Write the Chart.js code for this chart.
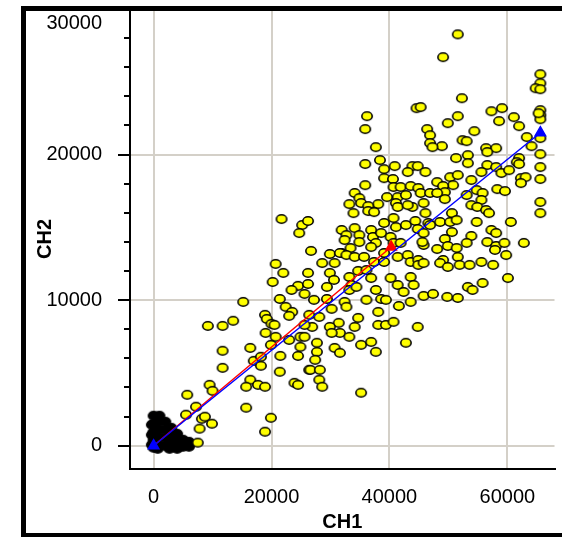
<!DOCTYPE html>
<html>
<head>
<meta charset="utf-8">
<script src="https://cdn.jsdelivr.net/npm/chart.js@4.4.1/dist/chart.umd.min.js"></script>
<style>
  html, body { margin: 0; padding: 0; background: #fff; overflow: hidden; }
  canvas { display: block; }
</style>
</head>
<body>
<canvas id="myChart" width="562" height="537"></canvas>
<script>
// CH1 / CH2 values of the yellow points
var ch1 = [
  21700, 25200, 26200, 24700, 26700, 20700, 22000, 26200, 20200, 24500,
  26200, 23400, 25600, 21400, 15200, 22400, 23500, 23000, 18900, 19200,
  20000, 13500, 11700, 9200, 26400, 19000, 20500, 20700, 19900, 23000,
  24900, 24900, 24500, 21500, 16400, 17000, 18200, 18200, 11700, 11700,
  21400, 23900, 24500, 26400, 16400, 15700, 17700, 18900, 9500, 10000,
  5700, 7200, 15700, 19900, 5500, 8200, 8700, 9900, 7800, 18900,
  7500,
  44600, 36200, 35900, 37700, 46400, 46900, 46900, 35900, 38400, 39100,
  39100, 40900, 40600, 40700, 43900, 44800, 43100, 46100, 35900, 34100,
  34900, 35200, 33200, 38100, 36400, 41900, 43600, 44900, 45300, 41400,
  42800, 41100, 43900, 39600, 46900, 36400, 37400, 33900, 41400, 43100,
  46100, 45800,
  31900, 32700, 32400, 34100, 34900, 34900, 33400, 31900, 36900, 37200,
  38600, 37700, 36900, 39100, 40700, 41100, 42800, 44400, 44800, 45800,
  46600, 40200, 40700, 41900, 45800, 29900, 31600, 32700, 34100, 35700,
  37400, 39100, 39100, 28600, 30700, 29900, 33200, 34700, 36100, 36900,
  41400, 43100, 43600, 44900, 44900, 40200, 41400, 43600, 44100, 29400,
  30600, 33600, 33200, 34400, 37700, 42400, 27200, 29400, 32400, 32700,
  36100, 38600, 39400, 45800, 30200, 28100, 26900, 25600, 34700, 31400,
  29900, 31600, 30200, 33200, 34100, 38100, 38100, 39400, 40700, 41600,
  43600, 44800, 25600, 27700, 27700, 30700, 31600, 35200, 36900, 37700,
  42800, 27400, 26600, 28200, 28100, 28600, 35200,
  51600, 49100, 52300, 45300, 57300, 59100, 58600, 51600, 49900, 54400,
  48900, 47300, 52400, 53100, 56400, 58100, 56600, 61100, 62000, 63300,
  64100, 65600, 65600, 64800, 65600, 65600, 65600, 65600, 65300, 65600,
  65600, 53300, 51300, 62000, 53300, 56600, 58100, 55600, 59000, 60300,
  61600, 62000, 65600, 65600, 62300, 63100, 62300, 48100, 50300, 51600,
  50800, 49100, 49400, 49400, 48100, 53900, 53100, 54800, 55800, 55600,
  58300, 59600, 53900, 54900, 56400, 56900, 65600, 65600, 50600, 48600,
  50300, 51400, 46900, 50600, 54800, 60600, 57300, 58100, 53900, 53100,
  45600, 49400, 48100, 49900, 51400, 56600, 58100, 59500, 57900, 59800,
  62800, 51600, 49100, 48600, 49900, 51900, 53600, 55600, 57600, 45800,
  60100, 55800, 53300, 54100, 47400, 49800, 51600
];
var ch2 = [
  15570, 15160, 15440, 14610, 13380, 12490, 11870, 11870, 11250, 10980,
  11110, 10700, 10430, 10080, 9880, 9540, 9190, 8920, 8990, 8710,
  8370, 8580, 8230, 8230, 8990, 7750, 8300, 7480, 6930, 7270,
  7480, 6790, 6170, 6170, 6720, 5830, 6110, 5490, 6520, 5350,
  5080, 4320, 4180, 5210, 4530, 4050, 4180, 4050, 4180, 3770,
  3500, 2680, 2610, 1920, 2130, 1850, 1990, 1510, 1170, 960,
  210,
  23190, 22640, 21750, 20510, 21750, 21330, 20790, 19350, 19620, 19000,
  18380, 19210, 18320, 17770, 19210, 19210, 18800, 18800, 17900, 17360,
  17010, 16670, 16600, 16600, 16460, 17770, 17840, 17700, 17360, 17080,
  17220, 16670, 16400, 17080, 17360, 16120, 16050, 15980, 16400, 16530,
  15980, 16670,
  14820, 14470, 14130, 14950, 14470, 13990, 13580, 13240, 14820, 14340,
  14610, 13930, 13650, 15300, 15640, 15020, 15160, 15440, 14890, 14610,
  15300, 14340, 13930, 13930, 13790, 13170, 13240, 13100, 12970, 12970,
  12620, 12620, 13240, 12550, 12550, 11870, 11590, 12010, 12070, 11520,
  12970, 13100, 12620, 12760, 12420, 11520, 11040, 11590, 11040, 10910,
  11390, 11040, 10700, 10910, 10700, 10560, 10020, 10080, 9880, 9540,
  10020, 10080, 10020, 10290, 9400, 8850, 8160, 8300, 8780, 8440,
  8160, 7750, 7750, 7480, 8160, 9190, 8300, 8300, 8510, 9600,
  9880, 8160, 7480, 7070, 6450, 6720, 6380, 6930, 7130, 6450,
  7070, 5900, 5210, 5210, 4530, 4050, 3640,
  28260, 26690, 23870, 23260, 22980, 23190, 22300, 22640, 22160, 21610,
  20580, 20510, 20990, 20920, 20440, 20440, 20170, 22570, 21950, 21200,
  20580, 25520, 24900, 24560, 24490, 23050, 22710, 22430, 22840, 21130,
  20030, 19960, 19760, 19760, 19410, 19280, 19140, 18800, 18730, 18930,
  19480, 19350, 19140, 18320, 18380, 18450, 18040, 18110, 18450, 18590,
  17900, 17840, 17420, 16940, 17360, 18250, 17220, 17560, 17360, 16880,
  17630, 17490, 16530, 16400, 16190, 15980, 16740, 15980, 15980, 15370,
  15370, 15500, 15160, 14680, 15370, 15370, 14820, 14610, 14410, 13930,
  13990, 14200, 13510, 13720, 13580, 13990, 13720, 13930, 13450, 13100,
  13930, 12970, 12760, 12550, 12280, 12420, 12420, 12620, 12420, 12550,
  11520, 11180, 10910, 10700, 10430, 10220, 10150
];

// dense black cluster near the origin
var nearCh1 = [0, 1000, 0, 1000, 2000, 0, 1000, 2000, 3000, 0, 1000, 2000, 3000, 4000,
  0, 1000, 2000, 3000, 4000, 5000, 6000, 5000, 6000, 2700, 4000, 700, -300, -300, -300];
var nearCh2 = [2060, 2060, 1510, 1650, 1650, 960, 1100, 1100, 1230, 410, 550, 550, 690, 820,
  -140, 0, 0, 140, 270, 410, 270, -70, -70, -210, -210, -210, 70, 750, 1440];

// the two fitted lines (end points)
var blueCh1 = [0, 65600];
var blueCh2 = [0, 21500];
var redCh1 = [0, 40300];
var redCh2 = [0, 13650];

var xTickValues = [0, 20000, 40000, 60000];
var xTickLabels = ["0", "20000", "40000", "60000"];
var yTickValues = [0, 10000, 20000, 30000];
var yTickLabels = ["0", "10000", "20000", "30000"];

function pairs(xs, ys) {
  return xs.map(function (x, i) { return { x: x, y: ys[i] }; });
}

function dot(fill) {
  var c = document.createElement("canvas");
  c.width = 14;
  c.height = 12;
  var g = c.getContext("2d");
  g.beginPath();
  g.ellipse(7, 6, 5.2, 4.2, 0, 0, Math.PI * 2);
  g.fillStyle = fill;
  g.fill();
  g.lineWidth = 1.6;
  g.strokeStyle = "#000";
  g.stroke();
  return c;
}

var FONT = "'Liberation Sans', Arial, sans-serif";

// minor y ticks and the black frame
var extras = {
  id: "extras",
  afterDraw: function (chart) {
    var ctx = chart.ctx;
    var ys = chart.scales.y;
    ctx.save();
    ctx.strokeStyle = "#000";
    ctx.lineWidth = 2;
    for (var v = Math.ceil(ys.min / 2000) * 2000; v <= ys.max; v += 2000) {
      if (v % 10000 === 0) continue;
      var py = Math.round(ys.getPixelForValue(v));
      ctx.beginPath();
      ctx.moveTo(ys.right - 6, py);
      ctx.lineTo(ys.right, py);
      ctx.stroke();
    }
    ctx.fillStyle = "#000";
    ctx.fillRect(21, 6, 541, 5);
    ctx.fillRect(21, 6, 5, 531);
    ctx.fillRect(21, 533, 541, 4);
    ctx.restore();
  }
};

function setTicks(values) {
  return function (s) {
    s.ticks = values.map(function (v) { return { value: v }; });
  };
}

var ctx = document.getElementById("myChart");
var myChart = new Chart(ctx, {
  type: "scatter",
  data: {
    datasets: [
      {
        data: pairs(blueCh1, blueCh2),
        showLine: true,
        borderColor: "#0000ff",
        borderWidth: 1.5,
        pointStyle: "triangle",
        pointRadius: 6,
        pointBackgroundColor: "#0000ff",
        pointBorderColor: "#0000ff",
        order: 0,
      },
      {
        data: pairs(redCh1, redCh2),
        showLine: true,
        borderColor: "#ff0000",
        borderWidth: 1.5,
        pointStyle: "triangle",
        pointRadius: [0, 6],
        pointBackgroundColor: "#ff0000",
        pointBorderColor: "#ff0000",
        order: 1,
      },
      {
        data: pairs(ch1, ch2),
        pointStyle: dot("#ffff00"),
        order: 2,
      },
      {
        data: pairs(nearCh1, nearCh2),
        pointStyle: dot("#000000"),
        order: 3,
      },
    ],
  },
  options: {
    responsive: false,
    animation: false,
    events: [],
    layout: { padding: { top: 9, left: 0, right: 0, bottom: 0 } },
    plugins: { legend: { display: false }, tooltip: { enabled: false } },
    scales: {
      x: {
        type: "linear",
        bounds: "data",
        min: -4000,
        max: 68000,
        afterBuildTicks: setTicks(xTickValues),
        afterFit: function (s) { s.height = 68; s.paddingLeft = 0; s.paddingRight = 0; },
        ticks: {
          autoSkip: false,
          maxRotation: 0,
          padding: 16,
          color: "#000",
          font: { family: FONT, size: 20 },
          callback: function (v) {
            var i = xTickValues.indexOf(v);
            return i < 0 ? "" : xTickLabels[i];
          },
        },
        grid: { color: "#d4d0c8", lineWidth: 2, drawTicks: false },
        border: { color: "#000", width: 2 },
        title: {
          display: true,
          text: "CH1",
          color: "#000",
          font: { family: FONT, size: 20, weight: "bold" },
          padding: { top: 0, bottom: 3 },
        },
      },
      y: {
        type: "linear",
        bounds: "data",
        min: -1600,
        max: 30000,
        afterBuildTicks: setTicks(yTickValues),
        afterFit: function (s) { s.width = 130; s.paddingTop = 0; s.paddingBottom = 0; },
        ticks: {
          autoSkip: false,
          padding: 16,
          color: "#000",
          font: { family: FONT, size: 20, lineHeight: 1.4 },
          callback: function (v) {
            var i = yTickValues.indexOf(v);
            if (i < 0) return "";
            // top label sits just under the frame
            return v === 30000 ? ["", yTickLabels[i]] : yTickLabels[i];
          },
        },
        grid: { color: "#d4d0c8", lineWidth: 2, tickLength: 12, tickColor: "#000", tickWidth: 2 },
        border: { color: "#000", width: 2 },
        title: {
          display: true,
          text: "CH2",
          color: "#000",
          font: { family: FONT, size: 20, weight: "bold" },
          padding: { top: 33, bottom: 0 },
        },
      },
    },
  },
  plugins: [extras],
});
</script>
</body>
</html>
